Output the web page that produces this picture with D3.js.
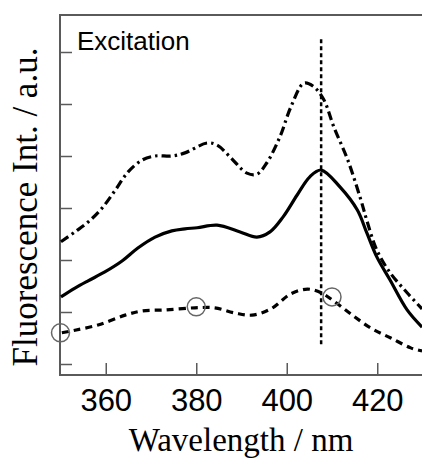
<!DOCTYPE html>
<html lang="en">
<head>
<meta charset="utf-8">
<script src="https://d3js.org/d3.v7.min.js"></script>
<style>
  body { margin: 0; background: #fff; }
  svg { display: block; }
</style>
</head>
<body>
<div id="vis"></div>
<script>
// spectra (wavelength in nm, intensity in arbitrary units)
const solidX = [350.1, 353.2, 356.1, 359.8, 363.6, 367.1, 370.9, 374.6, 377.5, 380.2, 384.6, 389.7, 393.4, 396.3, 399.2, 402.3, 405.1, 407.6, 411.8, 415.6, 417.7, 419.9, 422.8, 426.6, 429.9];
const solidY = [1.29, 1.46, 1.60, 1.77, 1.98, 2.23, 2.44, 2.56, 2.60, 2.62, 2.67, 2.54, 2.44, 2.54, 2.83, 3.25, 3.60, 3.73, 3.40, 2.96, 2.52, 2.06, 1.62, 1.04, 0.71];

const dashDotX = [350.1, 353.2, 356.1, 359.2, 362.0, 364.9, 368.0, 370.9, 374.6, 377.5, 382.4, 384.6, 387.5, 391.2, 393.4, 395.6, 398.5, 400.9, 403.8, 406.0, 408.2, 410.4, 413.5, 416.4, 417.7, 419.9, 422.8, 426.6, 429.9];
const dashDotY = [2.35, 2.54, 2.73, 3.00, 3.33, 3.69, 3.92, 4.00, 4.00, 4.06, 4.25, 4.21, 3.98, 3.67, 3.65, 3.87, 4.37, 4.94, 5.40, 5.33, 5.08, 4.56, 3.92, 3.15, 2.76, 2.19, 1.76, 1.37, 1.06];

const dashedX = [350.3, 353.2, 358.3, 364.3, 368.0, 373.1, 379.7, 384.1, 388.6, 392.3, 396.5, 400.9, 404.6, 407.6, 410.4, 414.2, 418.6, 423.0, 427.4, 429.9];
const dashedY = [0.60, 0.65, 0.75, 0.94, 1.02, 1.04, 1.08, 1.08, 0.98, 0.94, 1.06, 1.35, 1.44, 1.37, 1.21, 0.96, 0.69, 0.50, 0.31, 0.25];

// circled points on the dashed curve
const circleX = [350, 380, 410];
const circleY = [0.60, 1.10, 1.29];

// vertical marker line
const markerX = 407.6;
const markerY = [0.38, 6.25];

const xTicks = [360, 380, 400, 420];
const yTicks = [0, 1, 2, 3, 4, 5, 6];

const width = 422, height = 462;
const plotLeft = 60, plotRight = 422, plotTop = 15, plotBottom = 375;

const svg = d3.select('#vis').append('svg')
  .attr('width', width)
  .attr('height', height);

const x = d3.scaleLinear().domain([350, 430]).range([60.5, 422.5]);
const y = d3.scaleLinear().domain([0, 6]).range([364, 52]);

const axisColour = '#5a5a5a';

// frame: left, top, bottom
svg.append('path')
  .attr('d', `M${plotRight},${plotTop}H${plotLeft}V${plotBottom}H${plotRight}`)
  .attr('fill', 'none')
  .attr('stroke', axisColour)
  .attr('stroke-width', 2);

// x axis (ticks inward)
const xAxis = svg.append('g')
  .attr('transform', `translate(0,${plotBottom})`)
  .call(d3.axisBottom(x).tickValues(xTicks).tickSize(-12).tickPadding(14).tickSizeOuter(0));
xAxis.select('.domain').remove();
xAxis.selectAll('line').attr('stroke', axisColour).attr('stroke-width', 1.5);
xAxis.selectAll('text')
  .attr('fill', '#000')
  .style('font-family', '"Liberation Sans", Arial, sans-serif')
  .style('font-size', '31px');

// y axis (ticks inward, no labels)
const yAxis = svg.append('g')
  .attr('transform', `translate(${plotLeft},0)`)
  .call(d3.axisLeft(y).tickValues(yTicks).tickSize(-12).tickFormat('').tickSizeOuter(0));
yAxis.select('.domain').remove();
yAxis.selectAll('line').attr('stroke', axisColour).attr('stroke-width', 1.5);

// curves
const line = d3.line()
  .x(d => x(d[0]))
  .y(d => y(d[1]))
  .curve(d3.curveCatmullRom.alpha(0.5));

const series = [
  { xs: solidX, ys: solidY, dash: null },
  { xs: dashDotX, ys: dashDotY, dash: '9,4,2.5,4' },
  { xs: dashedX, ys: dashedY, dash: '7,5' }
];

series.forEach(s => {
  svg.append('path')
    .datum(s.xs.map((v, i) => [v, s.ys[i]]))
    .attr('d', line)
    .attr('fill', 'none')
    .attr('stroke', '#000')
    .attr('stroke-width', 3.2)
    .attr('stroke-dasharray', s.dash);
});

// vertical dotted marker
svg.append('line')
  .attr('x1', x(markerX)).attr('x2', x(markerX))
  .attr('y1', y(markerY[0])).attr('y2', y(markerY[1]))
  .attr('stroke', '#000')
  .attr('stroke-width', 2.5)
  .attr('stroke-dasharray', '4,3');

// circles
svg.selectAll('.mark')
  .data(circleX.map((v, i) => [v, circleY[i]]))
  .enter()
  .append('circle')
  .attr('cx', d => x(d[0]))
  .attr('cy', d => y(d[1]))
  .attr('r', 9)
  .attr('fill', 'none')
  .attr('stroke', '#666')
  .attr('stroke-width', 1.5);

// texts
svg.append('text')
  .attr('x', 77)
  .attr('y', 50)
  .style('font-family', '"Liberation Sans", Arial, sans-serif')
  .style('font-size', '26px')
  .text('Excitation');

svg.append('text')
  .attr('x', 241)
  .attr('y', 451)
  .attr('text-anchor', 'middle')
  .style('font-family', '"Liberation Serif", "Times New Roman", serif')
  .style('font-size', '33px')
  .text('Wavelength / nm');

svg.append('text')
  .attr('transform', 'translate(37,207) rotate(-90)')
  .attr('text-anchor', 'middle')
  .style('font-family', '"Liberation Serif", "Times New Roman", serif')
  .style('font-size', '35px')
  .text('Fluorescence Int. / a.u.');
</script>
</body>
</html>
